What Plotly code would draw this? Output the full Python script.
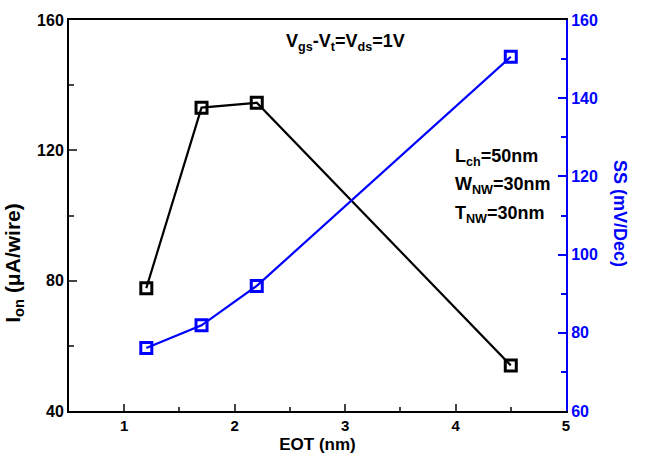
import plotly.graph_objects as go

eot = [1.2, 1.7, 2.2, 4.5]
ion = [77.7, 133.1, 134.6, 54.0]
ss = [76.1, 81.9, 92.0, 150.6]

BLUE = "#0000ff"
FONT = "Liberation Sans"

fig = go.Figure()
fig.add_trace(go.Scatter(x=eot, y=ion, mode="lines+markers", yaxis="y",
                         line=dict(color="black", width=2.2),
                         marker=dict(symbol="square-open", size=11, color="black", line=dict(width=3)),
                         showlegend=False))
fig.add_trace(go.Scatter(x=eot, y=ss, mode="lines+markers", yaxis="y2",
                         line=dict(color=BLUE, width=2.2),
                         marker=dict(symbol="square-open", size=11, color=BLUE, line=dict(width=3)),
                         showlegend=False))

fig.update_layout(
    width=647, height=463,
    margin=dict(l=69, r=81, t=12, b=48),
    plot_bgcolor="white", paper_bgcolor="white",
    font=dict(family=FONT, color="black"),
    xaxis=dict(range=[0.5, 5], tickvals=[1, 2, 3, 4, 5], ticks="inside", ticklen=7, tickwidth=1.5,
               minor=dict(ticks="inside", ticklen=4, tickwidth=1.5, dtick=0.5, tick0=0.5),
               showline=True, linecolor="black", linewidth=2, mirror=True, showgrid=False, zeroline=False,
               tickfont=dict(family=FONT, size=15, weight="bold"),
               title=dict(text="EOT (nm)", font=dict(family=FONT, size=17, weight="bold"), standoff=5)),
    yaxis=dict(range=[40, 160], tickvals=[40, 80, 120, 160], ticks="inside", ticklen=8, tickwidth=1.5,
               minor=dict(ticks="inside", ticklen=5, tickwidth=1.5, dtick=20, tick0=40),
               showline=True, linecolor="black", linewidth=2, showgrid=False, zeroline=False,
               tickfont=dict(family=FONT, size=16, weight="bold")),
    yaxis2=dict(range=[60, 160], tickvals=[60, 80, 100, 120, 140, 160], overlaying="y", side="right",
                ticks="inside", ticklen=8, tickwidth=1.5, tickcolor=BLUE,
                minor=dict(ticks="inside", ticklen=5, tickwidth=1.5, dtick=10, tick0=60, tickcolor=BLUE),
                showline=True, linecolor=BLUE, linewidth=2, showgrid=False, zeroline=False,
                tickfont=dict(family=FONT, size=16, weight="bold", color=BLUE)),
)

fig.add_annotation(xref="paper", yref="paper", x=-0.11, y=0.38, xanchor="center", yanchor="middle",
                   text="I<sub>on</sub> (μA/wire)", textangle=-90, showarrow=False,
                   font=dict(family=FONT, size=21, weight="bold", color="black"))
fig.add_annotation(xref="paper", yref="paper", x=1.11, y=0.505, xanchor="center", yanchor="middle",
                   text="SS (mV/Dec)", textangle=90, showarrow=False,
                   font=dict(family=FONT, size=18, weight="bold", color=BLUE))
fig.add_annotation(x=3.0, y=153, xref="x", yref="y", text="V<sub>gs</sub>-V<sub>t</sub>=V<sub>ds</sub>=1V",
                   showarrow=False, xanchor="center", yanchor="middle",
                   font=dict(family=FONT, size=18, weight="bold", color="black"))
for txt, yv in [("L<sub>ch</sub>=50nm", 117.7), ("W<sub>NW</sub>=30nm", 109.1), ("T<sub>NW</sub>=30nm", 100.4)]:
    fig.add_annotation(x=3.98, y=yv, xref="x", yref="y", text=txt, showarrow=False,
                       xanchor="left", yanchor="middle",
                       font=dict(family=FONT, size=18, weight="bold", color="black"))

fig.write_html("out.html")
